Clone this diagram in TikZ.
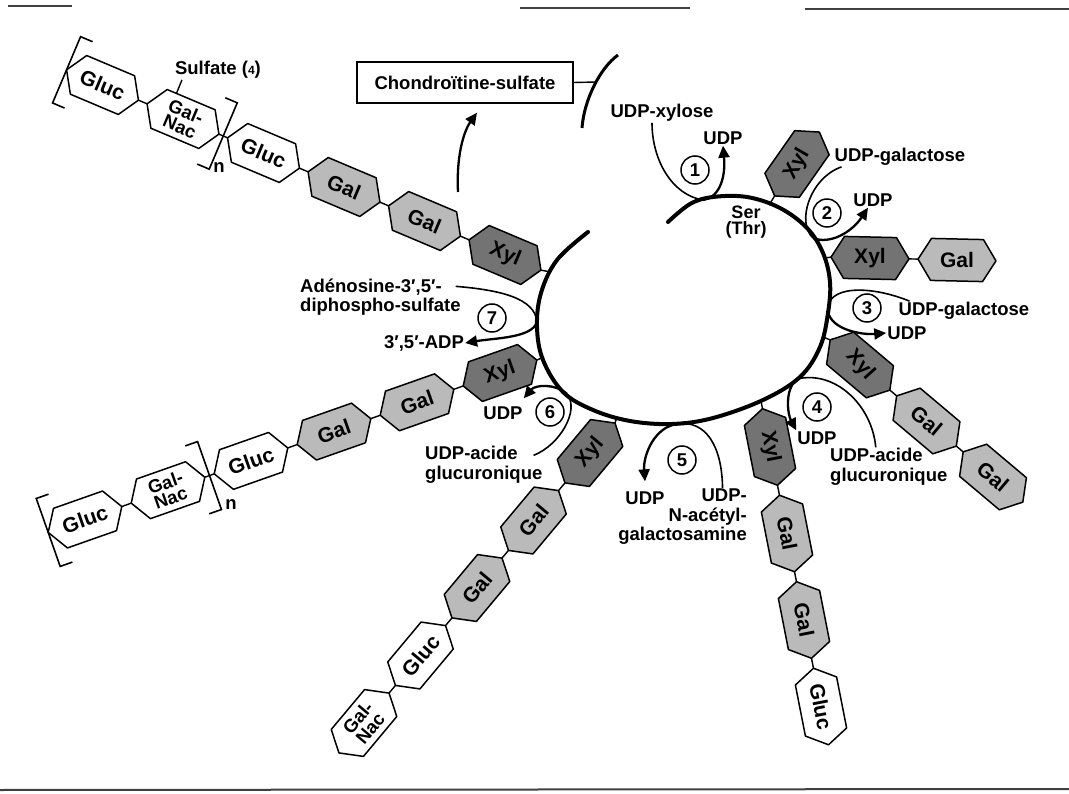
\documentclass[tikz,border=0pt]{standalone}
\usepackage{fontspec}
\setmainfont{Liberation Sans}
\usepackage{tikz}
\usetikzlibrary{arrows.meta,calc}
\newcommand{\labelfont}{\fontsize{18.5}{19.5}\selectfont\bfseries}
\newcommand{\sugarfont}{\fontsize{21}{18}\selectfont\bfseries}
\newcommand{\pairfont}{\fontsize{18.5}{16}\selectfont\bfseries}
\newcommand{\serfont}{\fontsize{18}{16}\selectfont\bfseries}
\tikzset{
  loopline/.style={line width=4pt,line cap=round},
  sugar/.style={draw,line width=1.5pt,line join=round},
  xylfill/.style={fill=black!55},
  galfill/.style={fill=black!27},
  plainfill/.style={fill=white},
  sugartext/.style={font=\sugarfont,inner sep=0pt,align=center},
  bondline/.style={line width=1.4pt},
  feedline/.style={line width=1.6pt},
  givearrow/.style={-{Triangle[length=12pt,width=11pt]},line width=2.3pt},
  steplabel/.style={font=\labelfont,inner sep=1pt,align=left},
  stepnum/.style={circle,draw,line width=1.5pt,minimum size=28pt,inner sep=0pt,font=\labelfont},
  bracketline/.style={line width=1.6pt},
  productbox/.style={draw,line width=1.3pt,minimum width=216pt,minimum height=41pt,font=\labelfont},
  scanline/.style={line width=1.4pt,black!75}
}
\newcommand{\sugarunit}[7][]{%
  \begin{scope}[shift={#3},rotate=#4]
    \draw[sugar,#5] (-39,0) -- (-26,21) -- (26,21) -- (39,0) -- (26,-21) -- (-26,-21) -- cycle;
    \coordinate (#2-w) at (-39,0);
    \coordinate (#2-e) at (39,0);
    \coordinate (#2-t) at (-16,-21);
  \end{scope}
  \node[sugartext,rotate=#7,#1] (#2) at #3 {#6};}

\begin{document}
\begin{tikzpicture}[x=1pt,y=-1pt]
  \useasboundingbox (0,0) rectangle (1069,794);
  \draw[scanline] (8,6) -- (72,6);
  \draw[scanline] (520,8) -- (690,8);
  \draw[scanline] (805,9) -- (1069,9);
  \draw[scanline,line width=2pt] (0,790) -- (1069,789);

  \draw[loopline] plot[smooth,tension=0.6] coordinates {(588,232) (557,260) (541,293) (537,327) (543,360) (563,392) (593,410) (630,421) (672,424) (713,418) (763,400) (800,377) (820,347) (828,313) (830,282) (823,253) (807,228) (780,208) (747,197) (713,197) (690,204) (668,222)};
  \coordinate (la) at (551,272);
  \coordinate (lb) at (825,258);
  \coordinate (lc) at (769,205);
  \coordinate (ld) at (823,337);
  \coordinate (le) at (761,401);
  \coordinate (lf) at (617,417);
  \coordinate (lg) at (544,357);

  \sugarunit{a1}{(505,255)}{-22.9}{xylfill}{Xyl}{-22.9}
  \sugarunit{a2}{(424.5,221)}{-22.9}{galfill}{Gal}{-22.9}
  \sugarunit{a3}{(344,187)}{-22.9}{galfill}{Gal}{-22.9}
  \sugarunit{a4}{(263.5,153)}{-22.9}{plainfill}{Gluc}{-22.9}
  \sugarunit[font=\pairfont]{a5}{(183,119)}{-22.9}{plainfill}{Gal-\\Nac}{-22.9}
  \sugarunit{a6}{(102.5,85)}{-22.9}{plainfill}{Gluc}{-22.9}

  \sugarunit{b1}{(870,258)}{-1.3}{xylfill}{Xyl}{0}
  \sugarunit{b2}{(957,260)}{-1.3}{galfill}{Gal}{0}

  \sugarunit{c1}{(797,164)}{55}{xylfill}{Xyl}{60}

  \sugarunit{d1}{(860,365)}{-40.1}{xylfill}{Xyl}{-48}
  \sugarunit{d2}{(926.5,421)}{-40.1}{galfill}{Gal}{-40}
  \sugarunit{d3}{(993,477)}{-40.1}{galfill}{Gal}{-40}

  \sugarunit{e1}{(770,447)}{-78.9}{xylfill}{Xyl}{-79}
  \sugarunit{e2}{(787,533.5)}{-78.9}{galfill}{Gal}{-79}
  \sugarunit{e3}{(804,620)}{-78.9}{galfill}{Gal}{-79}
  \sugarunit{e4}{(821,706.5)}{-78.9}{plainfill}{Gluc}{-79}

  \sugarunit{f1}{(590,453)}{50.1}{xylfill}{Xyl}{50}
  \sugarunit{f2}{(533.5,520.5)}{50.1}{galfill}{Gal}{50}
  \sugarunit{f3}{(477,588)}{50.1}{galfill}{Gal}{50}
  \sugarunit{f4}{(420.5,655.5)}{50.1}{plainfill}{Gluc}{50}
  \sugarunit[font=\pairfont]{f5}{(364,723)}{50.1}{plainfill}{Gal-\\Nac}{50}

  \sugarunit{g1}{(500,373)}{19.4}{xylfill}{Xyl}{19.4}
  \sugarunit{g2}{(417,402.3)}{19.4}{galfill}{Gal}{19.4}
  \sugarunit{g3}{(334,431.6)}{19.4}{galfill}{Gal}{19.4}
  \sugarunit{g4}{(251,460.9)}{19.4}{plainfill}{Gluc}{19.4}
  \sugarunit[font=\pairfont]{g5}{(168,490.2)}{19.4}{plainfill}{Gal-\\Nac}{19.4}
  \sugarunit{g6}{(85,519.5)}{19.4}{plainfill}{Gluc}{19.4}

  \foreach \p/\q in {la/a1-e,a1-w/a2-e,a2-w/a3-e,a3-w/a4-e,a4-w/a5-e,a5-w/a6-e,
    lb/b1-w,b1-e/b2-w,lc/c1-w,ld/d1-w,d1-e/d2-w,d2-e/d3-w,
    le/e1-w,e1-e/e2-w,e2-e/e3-w,e3-e/e4-w,
    lf/f1-e,f1-w/f2-e,f2-w/f3-e,f3-w/f4-e,f4-w/f5-e,
    lg/g1-e,g1-w/g2-e,g2-w/g3-e,g3-w/g4-e,g4-w/g5-e,g5-w/g6-e}
    \draw[bondline] (\p) -- (\q);

  \coordinate (jA) at ($(a5-e)!0.5!(a4-w)$);
  \coordinate (jG) at ($(g5-e)!0.5!(g4-w)$);
  \begin{scope}[shift={(a6-w)},rotate=-22.9]
    \draw[bracketline] (13,-36) -- (0,-36) -- (0,36) -- (13,36);
  \end{scope}
  \begin{scope}[shift={(jA)},rotate=-22.9]
    \draw[bracketline] (-13,-36) -- (0,-36) -- (0,36) -- (-13,36);
  \end{scope}
  \begin{scope}[shift={(g6-w)},rotate=19.4]
    \draw[bracketline] (13,-36) -- (0,-36) -- (0,36) -- (13,36);
  \end{scope}
  \begin{scope}[shift={(jG)},rotate=19.4]
    \draw[bracketline] (-13,-36) -- (0,-36) -- (0,36) -- (-13,36);
  \end{scope}
  \node[steplabel] (nA) at (219,168) {n};
  \node[steplabel] (nG) at (231,505) {n};

  \node[steplabel] (sulf) at (218,70) {Sulfate ({\fontsize{12}{12}\selectfont 4})};
  \draw[bondline] (a5-t) -- ([xshift=-36pt]sulf.south);

  \node[productbox] (cs) at (465,82.5) {Chondroïtine-sulfate};
  \coordinate (ht) at (618,55);
  \coordinate (hm) at (596,82);
  \coordinate (hb) at (582,128);
  \draw[line width=3pt] (ht) .. controls (600,68) and (584,100) .. (hb);
  \draw[bondline] (cs.east) -- (hm);
  \coordinate (chainout) at (458,192);
  \draw[givearrow] (chainout) .. controls (456,150) and (466,128) .. ([xshift=12pt,yshift=-9pt]cs.south);

  \node[steplabel,font=\serfont,align=center] (st) at (746,222) {Ser\\(Thr)};

  \node[steplabel] (sub1) at (662,113) {UDP-xylose};
  \node[steplabel] (prod1) at (723,138) {UDP};
  \node[stepnum] (num1) at (695,170) {1};
  \coordinate (k1) at (703,200);
  \draw[feedline] ([xshift=-10pt]sub1.south) .. controls (652,160) and (672,195) .. (k1);
  \draw[givearrow] (k1) .. controls (718,198) and (726,180) .. (prod1.south);

  \node[steplabel] (sub2) at (900,157) {UDP-galactose};
  \node[steplabel] (prod2) at (873,200) {UDP};
  \node[stepnum] (num2) at (827,213) {2};
  \coordinate (k2) at (813,238);
  \draw[feedline] ([xshift=8pt]sub2.south west) .. controls (810,178) and (796,222) .. (k2);
  \draw[givearrow] (k2) .. controls (830,245) and (852,232) .. ([xshift=-5pt]prod2.south);

  \node[steplabel] (sub3) at (964,311) {UDP-galactose};
  \node[steplabel] (prod3) at (907,333) {UDP};
  \node[stepnum] (num3) at (867,308) {3};
  \coordinate (k3) at (828,312);
  \draw[feedline] ([xshift=12pt]sub3.north west) .. controls (870,285) and (825,285) .. (k3);
  \draw[givearrow] (k3) .. controls (832,330) and (862,335) .. (prod3.west);

  \node[steplabel,anchor=west] (sub4) at (829,467) {UDP-acide\\glucuronique};
  \node[steplabel] (prod4) at (817,438) {UDP};
  \node[stepnum] (num4) at (817,407) {4};
  \coordinate (k4) at (797,379);
  \draw[feedline] ([xshift=-13pt]sub4.north) .. controls (872,405) and (835,370) .. (k4);
  \draw[givearrow] (k4) .. controls (784,390) and (788,415) .. (prod4.north west);

  \node[steplabel,anchor=east,align=right] (sub5) at (748,517) {UDP-\\N-acétyl-\\galactosamine};
  \node[steplabel] (prod5) at (645,498) {UDP};
  \node[stepnum] (num5) at (682,460) {5};
  \coordinate (k5) at (678,424);
  \draw[feedline] ([xshift=40pt]sub5.north) .. controls (722,445) and (705,420) .. (k5);
  \draw[givearrow] (k5) .. controls (655,426) and (643,455) .. ([yshift=9pt]prod5.north);

  \node[steplabel,anchor=west] (sub6) at (424,465) {UDP-acide\\glucuronique};
  \node[steplabel] (prod6) at (503,413) {UDP};
  \node[stepnum] (num6) at (550,412) {6};
  \coordinate (k6) at (567,394);
  \draw[feedline] ([shift={(-10pt,-10pt)}]sub6.north east) .. controls (560,445) and (580,410) .. (k6);
  \draw[givearrow] (k6) .. controls (555,383) and (535,385) .. ([yshift=7pt]prod6.north east);

  \node[steplabel,anchor=west] (sub7) at (299,297) {Adénosine-3′,5′-\\diphospho-sulfate};
  \node[steplabel] (prod7) at (424,343) {3′,5′-ADP};
  \node[stepnum] (num7) at (492,318) {7};
  \coordinate (k7) at (537,322);
  \draw[feedline] ([shift={(-6pt,-9pt)}]sub7.north east) .. controls (500,290) and (535,298) .. (k7);
  \draw[givearrow] (k7) .. controls (532,338) and (495,338) .. (prod7.east);
\end{tikzpicture}
\end{document}
